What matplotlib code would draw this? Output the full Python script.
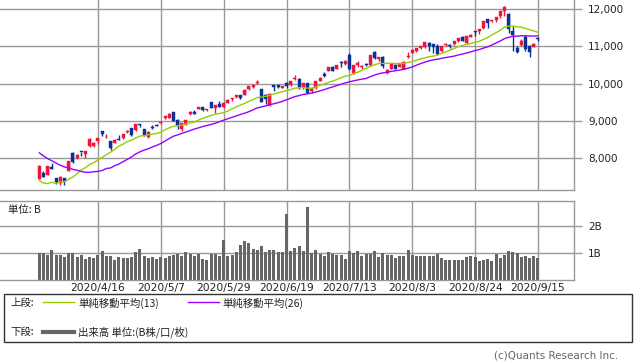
import matplotlib
matplotlib.use("Agg")
import matplotlib.pyplot as plt
from matplotlib.patches import Rectangle
from matplotlib.lines import Line2D
import numpy as np

# ---------------- data ----------------
warmup_close = [9750.97, 9576.59, 9221.28, 8965.61, 8980.78, 8566.48, 8567.37, 8952.16,
                8684.09, 9018.09, 8738.60, 8575.62, 7950.68, 8344.25, 7952.05, 7201.80,
                7874.88, 6904.59, 7334.78, 6989.84, 7150.58, 6879.52, 6860.67, 7417.86, 7384.30]

opens = [7440, 7600, 7550, 7758, 7459, 7339, 7460, 7650, 8143, 7992,
         8160, 8111, 8330, 8310, 8463, 8725, 8551, 8447, 8395, 8508,
         8530, 8705, 8795, 8757, 8900, 8784, 8560, 8835, 8870, 8950,
         9064, 9069, 9232, 9026, 8784, 8885, 9179, 9237, 9319, 9365,
         9298, 9501, 9347, 9460, 9382, 9471, 9577, 9650, 9680, 9703,
         9861, 9899, 10010, 9844, 9702, 9419, 9949, 9950, 9892, 10016,
         9960, 10110, 10130, 9910, 10010, 9800, 9870, 10063, 10250, 10330,
         10430, 10390, 10560, 10530, 10766, 10290, 10500, 10440, 10510, 10486,
         10841, 10650, 10716, 10280, 10400, 10500, 10450, 10400, 10715, 10830,
         10880, 10960, 10980, 11085, 11050, 11000, 10860, 11030, 11030, 11070,
         11130, 11240, 11080, 11260, 11420, 11400, 11490, 11720, 11680, 11710,
         11800, 11960, 11860, 11420, 10946, 11040, 11260, 11000, 10990, 11200]
highs = [7815, 7643, 7784, 7853, 7461, 7507, 7463, 7921, 8158, 8100,
         8170, 8197, 8531, 8434, 8543, 8728, 8634, 8454, 8521, 8614,
         8645, 8744, 8797, 8926, 8912, 8784, 8712, 8888, 8919, 8991,
         9121, 9221, 9245, 9054, 8945, 9017, 9272, 9288, 9378, 9375,
         9326, 9504, 9414, 9523, 9505, 9571, 9608, 9693, 9685, 9845,
         9925, 9979, 10086, 9852, 9710, 9750, 9963, 9952, 9943, 10050,
         10057, 10222, 10139, 10017, 10010, 9877, 10076, 10185, 10300, 10449,
         10467, 10495, 10598, 10620, 10824, 10495, 10604, 10509, 10540, 10772,
         10865, 10725, 10730, 10382, 10540, 10519, 10563, 10608, 10840, 10923,
         10953, 11002, 11121, 11101, 11052, 11060, 11019, 11090, 11049, 11130,
         11217, 11281, 11277, 11327, 11420, 11466, 11666, 11731, 11717, 11794,
         11945, 12074, 11895, 11540, 11000, 11185, 11290, 11035, 11085, 11244]
lows = [7426, 7485, 7538, 7692, 7301, 7282, 7265, 7644, 7876, 7963,
        8061, 8004, 8299, 8290, 8389, 8588, 8538, 8220, 8395, 8490,
        8498, 8680, 8602, 8736, 8834, 8599, 8544, 8772, 8853, 8914,
        9052, 9063, 9002, 8790, 8713, 8875, 9150, 9185, 9309, 9249,
        9265, 9334, 9218, 9360, 9353, 9466, 9526, 9623, 9589, 9688,
        9819, 9888, 9977, 9491, 9454, 9404, 9796, 9880, 9876, 9882,
        9940, 10100, 9864, 9840, 9744, 9745, 9855, 10063, 10185, 10330,
        10343, 10389, 10437, 10495, 10364, 10263, 10440, 10391, 10465, 10476,
        10653, 10615, 10409, 10247, 10390, 10389, 10439, 10377, 10680, 10826,
        10850, 10927, 10964, 10874, 10830, 10770, 10854, 10995, 10953, 11040,
        11120, 11145, 11065, 11251, 11270, 11334, 11476, 11497, 11644, 11651,
        11754, 11801, 11361, 10875, 10826, 11010, 10880, 10705, 10970, 11129]
closes = [7797.54, 7502.38, 7774.15, 7700.10, 7360.58, 7487.31, 7373.08, 7913.24, 7887.26, 8090.90,
          8153.58, 8192.42, 8515.74, 8393.18, 8532.36, 8650.14, 8560.73, 8263.23, 8495.38, 8494.75,
          8634.52, 8730.16, 8607.73, 8914.71, 8889.55, 8604.95, 8710.72, 8809.12, 8854.39, 8979.66,
          9121.32, 9192.34, 9002.55, 8863.17, 8943.72, 9014.56, 9234.83, 9185.10, 9375.78, 9284.88,
          9324.59, 9340.22, 9412.36, 9368.99, 9489.87, 9552.05, 9608.38, 9682.91, 9615.81, 9814.08,
          9924.75, 9953.75, 10020.35, 9492.73, 9588.81, 9726.02, 9895.87, 9910.53, 9943.05, 9946.12,
          10056.48, 10131.37, 9909.17, 10017.00, 9757.22, 9874.15, 10058.77, 10154.63, 10207.63, 10433.65,
          10343.89, 10492.50, 10547.75, 10617.44, 10390.84, 10488.58, 10550.49, 10473.83, 10503.19, 10767.09,
          10680.36, 10706.13, 10461.42, 10363.18, 10536.27, 10402.09, 10542.94, 10587.81, 10745.27, 10902.80,
          10941.17, 10998.40, 11108.07, 11010.98, 10968.36, 10782.82, 11012.24, 11042.50, 11019.30, 11129.73,
          11210.84, 11146.46, 11264.95, 11311.80, 11379.72, 11466.47, 11665.06, 11625.34, 11695.63, 11775.46,
          11939.67, 12056.44, 11458.10, 11313.13, 10847.69, 11141.56, 10919.59, 10853.55, 11056.65, 11190.32]
volume_b = [1.00, 1.00, 0.93, 1.11, 0.93, 0.93, 0.85, 1.00, 1.00, 0.85,
            0.93, 0.78, 0.85, 0.81, 0.93, 1.07, 0.89, 0.89, 0.74, 0.85,
            0.81, 0.81, 0.85, 1.04, 1.15, 0.89, 0.81, 0.85, 0.78, 0.85,
            0.81, 0.89, 0.93, 0.96, 0.89, 1.04, 0.96, 0.89, 0.96, 0.78,
            0.74, 0.96, 0.96, 0.89, 1.48, 0.89, 0.93, 1.04, 1.30, 1.44,
            1.37, 1.15, 1.11, 1.26, 1.04, 1.11, 1.11, 1.04, 1.04, 2.44,
            1.07, 1.19, 1.26, 1.07, 2.70, 1.00, 1.11, 0.96, 0.89, 1.04,
            0.96, 0.93, 0.93, 0.78, 1.07, 1.00, 1.07, 0.89, 0.96, 0.96,
            1.07, 0.85, 1.00, 0.93, 0.93, 0.81, 0.89, 0.89, 1.11, 0.93,
            0.89, 0.89, 0.89, 0.89, 0.89, 0.96, 0.81, 0.74, 0.74, 0.74,
            0.74, 0.74, 0.85, 0.89, 0.85, 0.70, 0.74, 0.78, 0.70, 0.96,
            0.81, 0.93, 1.07, 1.04, 1.00, 0.85, 0.89, 0.81, 0.89, 0.81]
date_ticks = [14, 29, 44, 59, 74, 89, 104, 119]
date_labels = ["2020/4/16", "2020/5/7", "2020/5/29", "2020/6/19",
               "2020/7/13", "2020/8/3", "2020/8/24", "2020/9/15"]
price_ticks = [8000, 9000, 10000, 11000, 12000]
price_labels = ["8,000", "9,000", "10,000", "11,000", "12,000"]
vol_ticks = [1, 2]
vol_labels = ["1B", "2B"]

# ---------------- style ----------------
W, H = 638, 362
RED = "#f0143c"
BLUE = "#0a3296"
GREEN = "#99cc00"
PURPLE = "#9900ff"
GRID = "#999999"
VOLC = "#666666"
JP = ["Noto Sans CJK JP", "DejaVu Sans"]

def fx(px):
    return px / W

def fy(py):
    return 1 - py / H

fig = plt.figure(figsize=(W / 100, H / 100), dpi=100)
fig.patch.set_facecolor("white")

n = len(closes)
x = np.arange(n)
xlim = (-9.38, 127.6)

all_close = np.array(warmup_close + closes)
sma13 = np.convolve(all_close, np.ones(13) / 13, mode="valid")[-n:]
sma26 = np.convolve(all_close, np.ones(26) / 26, mode="valid")[-n:]

# ---------- upper panel ----------
ax = fig.add_axes([fx(0), fy(190), fx(574), (190 - 0) / H])
ax.set_xlim(*xlim)
ax.set_ylim(7141, 12242)
for t in date_ticks:
    ax.axvline(t, color=GRID, lw=1, zorder=0)
for t in price_ticks:
    ax.axhline(t, color=GRID, lw=1, zorder=0)

o = np.array(opens, float); c = np.array(closes, float)
hi = np.array(highs, float); lo = np.array(lows, float)
up = c >= o
colors = np.where(up, RED, BLUE)
ax.vlines(x, lo, hi, colors=colors, lw=1, zorder=2)
bottom = np.minimum(o, c)
height = np.maximum(np.abs(c - o), 25)
ax.bar(x, height, bottom=bottom, width=0.72, color=colors, edgecolor=colors,
       linewidth=0.3, zorder=3)

ax.plot(x, sma13, color=GREEN, lw=1.0, zorder=4)
ax.plot(x, sma26, color=PURPLE, lw=1.0, zorder=4)

ax.yaxis.tick_right()
ax.set_yticks(price_ticks)
ax.set_yticklabels(price_labels, fontsize=7.5, color="#222222")
ax.tick_params(axis="y", length=6, width=1, color=GRID, pad=4)
ax.set_xticks([])
for s in ax.spines.values():
    s.set_color(GRID)
    s.set_linewidth(1)
ax.spines["left"].set_visible(False)
ax.spines["top"].set_visible(False)

# ---------- volume panel ----------
av = fig.add_axes([fx(0), fy(280), fx(574), (280 - 201) / H])
av.set_xlim(*xlim)
av.set_ylim(0, 2.93)
for t in date_ticks:
    av.axvline(t, color=GRID, lw=1, zorder=0)
for t in vol_ticks:
    av.axhline(t, color=GRID, lw=1, zorder=0)
av.bar(x, volume_b, width=0.72, color=VOLC, zorder=2)
av.yaxis.tick_right()
av.set_yticks(vol_ticks)
av.set_yticklabels(vol_labels, fontsize=7.5, color="#222222")
av.tick_params(axis="y", length=6, width=1, color=GRID, pad=4)
av.set_xticks(date_ticks)
av.set_xticklabels(date_labels, fontsize=7.7, color="#222222")
av.tick_params(axis="x", length=0, pad=2)
for s in av.spines.values():
    s.set_color(GRID)
    s.set_linewidth(1)
av.spines["left"].set_visible(False)
av.text(fx(8), fy(210), "単位: B", transform=fig.transFigure, fontsize=7.5,
        family=JP, va="center", ha="left", color="#222222")

# ---------- legend box ----------
fig.patches.append(Rectangle((fx(4), fy(342)), fx(628), (342 - 294) / H,
                             transform=fig.transFigure, fill=False,
                             edgecolor="#333333", lw=1))
fig.text(fx(10), fy(303), "上段:", fontsize=7.5, family=JP, va="center", color="#222222")
fig.lines.append(Line2D([fx(43), fx(74)], [fy(302), fy(302)], transform=fig.transFigure,
                        color=GREEN, lw=1))
fig.text(fx(78), fy(303), "単純移動平均(13)", fontsize=7.5, family=JP, va="center", color="#222222")
fig.lines.append(Line2D([fx(188), fx(219)], [fy(302), fy(302)], transform=fig.transFigure,
                        color=PURPLE, lw=1))
fig.text(fx(222), fy(303), "単純移動平均(26)", fontsize=7.5, family=JP, va="center", color="#222222")
fig.text(fx(10), fy(332), "下段:", fontsize=7.5, family=JP, va="center", color="#222222")
fig.lines.append(Line2D([fx(43), fx(74)], [fy(332), fy(332)], transform=fig.transFigure,
                        color=VOLC, lw=3))
fig.text(fx(78), fy(332), "出来高 単位:(B株/口/枚)", fontsize=7.5, family=JP, va="center", color="#222222")

fig.text(fx(618), fy(356), "(c)Quants Research Inc.", fontsize=7.5, ha="right",
         va="center", color="#666666")

fig.savefig("out.png", dpi=100)
